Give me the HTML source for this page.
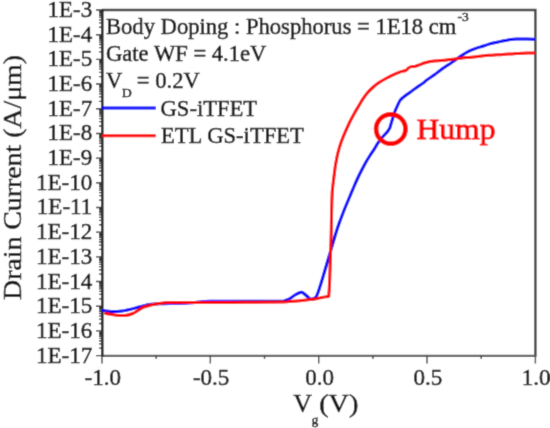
<!DOCTYPE html>
<html><head><meta charset="utf-8"><style>
html,body{margin:0;padding:0;background:#fff;width:550px;height:428px;overflow:hidden}
svg{display:block;color:#111}
#w{width:550px;height:428px}
text{font-family:"Liberation Serif",serif;fill:currentColor;stroke:currentColor;stroke-width:0.5px}
</style></head><body><div id="w">
<svg width="550" height="428" viewBox="0 0 550 428">
<defs><filter id="bl" x="0" y="0" width="550" height="428" filterUnits="userSpaceOnUse"><feConvolveMatrix order="3" kernelMatrix="0.01917 0.10012 0.01917 0.10012 0.52283 0.10012 0.01917 0.10012 0.01917" divisor="1" edgeMode="duplicate" preserveAlpha="true"/></filter></defs>
<rect width="550" height="428" fill="#fff"/>
<g filter="url(#bl)">
<rect width="550" height="428" fill="#fff"/>
<path d="M102.0 10.0H535.4V355.6" fill="none" stroke="#404040" stroke-width="2.4"/>
<path d="M102.0 355.9H536.6" fill="none" stroke="#606060" stroke-width="2.4"/>
<path d="M102.3 9.0V356.6" stroke="#1e1e1e" stroke-width="2.5"/>
<path d="M96.0 10.00H102.0 M96.0 34.69H102.0 M96.0 59.37H102.0 M96.0 84.06H102.0 M96.0 108.74H102.0 M96.0 133.43H102.0 M96.0 158.11H102.0 M96.0 182.80H102.0 M96.0 207.49H102.0 M96.0 232.17H102.0 M96.0 256.86H102.0 M96.0 281.54H102.0 M96.0 306.23H102.0 M96.0 330.91H102.0 M96.0 355.60H102.0" stroke="#333" stroke-width="1.4" fill="none"/>
<path d="M99.0 27.25H102.0 M99.0 22.91H102.0 M99.0 19.82H102.0 M99.0 17.43H102.0 M99.0 15.48H102.0 M99.0 13.82H102.0 M99.0 12.39H102.0 M99.0 11.13H102.0 M99.0 51.94H102.0 M99.0 47.59H102.0 M99.0 44.51H102.0 M99.0 42.12H102.0 M99.0 40.16H102.0 M99.0 38.51H102.0 M99.0 37.08H102.0 M99.0 35.82H102.0 M99.0 76.63H102.0 M99.0 72.28H102.0 M99.0 69.19H102.0 M99.0 66.80H102.0 M99.0 64.85H102.0 M99.0 63.20H102.0 M99.0 61.76H102.0 M99.0 60.50H102.0 M99.0 101.31H102.0 M99.0 96.96H102.0 M99.0 93.88H102.0 M99.0 91.49H102.0 M99.0 89.53H102.0 M99.0 87.88H102.0 M99.0 86.45H102.0 M99.0 85.19H102.0 M99.0 126.00H102.0 M99.0 121.65H102.0 M99.0 118.57H102.0 M99.0 116.17H102.0 M99.0 114.22H102.0 M99.0 112.57H102.0 M99.0 111.14H102.0 M99.0 109.87H102.0 M99.0 150.68H102.0 M99.0 146.34H102.0 M99.0 143.25H102.0 M99.0 140.86H102.0 M99.0 138.91H102.0 M99.0 137.25H102.0 M99.0 135.82H102.0 M99.0 134.56H102.0 M99.0 175.37H102.0 M99.0 171.02H102.0 M99.0 167.94H102.0 M99.0 165.55H102.0 M99.0 163.59H102.0 M99.0 161.94H102.0 M99.0 160.51H102.0 M99.0 159.24H102.0 M99.0 200.05H102.0 M99.0 195.71H102.0 M99.0 192.62H102.0 M99.0 190.23H102.0 M99.0 188.28H102.0 M99.0 186.62H102.0 M99.0 185.19H102.0 M99.0 183.93H102.0 M99.0 224.74H102.0 M99.0 220.39H102.0 M99.0 217.31H102.0 M99.0 214.92H102.0 M99.0 212.96H102.0 M99.0 211.31H102.0 M99.0 209.88H102.0 M99.0 208.62H102.0 M99.0 249.43H102.0 M99.0 245.08H102.0 M99.0 241.99H102.0 M99.0 239.60H102.0 M99.0 237.65H102.0 M99.0 236.00H102.0 M99.0 234.56H102.0 M99.0 233.30H102.0 M99.0 274.11H102.0 M99.0 269.76H102.0 M99.0 266.68H102.0 M99.0 264.29H102.0 M99.0 262.33H102.0 M99.0 260.68H102.0 M99.0 259.25H102.0 M99.0 257.99H102.0 M99.0 298.80H102.0 M99.0 294.45H102.0 M99.0 291.37H102.0 M99.0 288.97H102.0 M99.0 287.02H102.0 M99.0 285.37H102.0 M99.0 283.94H102.0 M99.0 282.67H102.0 M99.0 323.48H102.0 M99.0 319.14H102.0 M99.0 316.05H102.0 M99.0 313.66H102.0 M99.0 311.71H102.0 M99.0 310.05H102.0 M99.0 308.62H102.0 M99.0 307.36H102.0 M99.0 348.17H102.0 M99.0 343.82H102.0 M99.0 340.74H102.0 M99.0 338.35H102.0 M99.0 336.39H102.0 M99.0 334.74H102.0 M99.0 333.31H102.0 M99.0 332.04H102.0" stroke="#333" stroke-width="1.3" fill="none"/>
<path d="M102.00 355.6V363.6 M156.18 355.6V359.1 M210.35 355.6V363.6 M264.52 355.6V359.1 M318.70 355.6V363.6 M372.88 355.6V359.1 M427.05 355.6V363.6 M481.22 355.6V359.1 M535.40 355.6V363.6" stroke="#404040" stroke-width="1.4" fill="none"/>
<g font-size="23" fill="#111"><text x="92.2" y="17.00" text-anchor="end">1E-3</text><text x="92.2" y="41.69" text-anchor="end">1E-4</text><text x="92.2" y="66.37" text-anchor="end">1E-5</text><text x="92.2" y="91.06" text-anchor="end">1E-6</text><text x="92.2" y="115.74" text-anchor="end">1E-7</text><text x="92.2" y="140.43" text-anchor="end">1E-8</text><text x="92.2" y="165.11" text-anchor="end">1E-9</text><text x="92.2" y="189.80" text-anchor="end">1E-10</text><text x="92.2" y="214.49" text-anchor="end">1E-11</text><text x="92.2" y="239.17" text-anchor="end">1E-12</text><text x="92.2" y="263.86" text-anchor="end">1E-13</text><text x="92.2" y="288.54" text-anchor="end">1E-14</text><text x="92.2" y="313.23" text-anchor="end">1E-15</text><text x="92.2" y="337.91" text-anchor="end">1E-16</text><text x="92.2" y="362.60" text-anchor="end">1E-17</text></g>
<g font-size="23" fill="#111"><text x="102.80" y="384.6" text-anchor="middle">-1.0</text><text x="211.15" y="384.6" text-anchor="middle">-0.5</text><text x="319.50" y="384.6" text-anchor="middle">0.0</text><text x="427.85" y="384.6" text-anchor="middle">0.5</text><text x="536.20" y="384.6" text-anchor="middle">1.0</text></g>
<path d="M102.00 310.30C102.67 310.42 104.50 310.82 106.00 311.00C107.50 311.18 109.17 311.32 111.00 311.40C112.83 311.48 115.17 311.55 117.00 311.50C118.83 311.45 120.33 311.35 122.00 311.10C123.67 310.85 125.17 310.42 127.00 310.00C128.83 309.58 131.17 309.07 133.00 308.60C134.83 308.13 136.17 307.68 138.00 307.20C139.83 306.72 142.17 306.13 144.00 305.70C145.83 305.27 147.17 304.88 149.00 304.60C150.83 304.32 152.83 304.13 155.00 304.00C157.17 303.87 159.50 303.87 162.00 303.80C164.50 303.73 167.50 303.63 170.00 303.60C172.50 303.57 174.50 303.67 177.00 303.60C179.50 303.53 182.00 303.37 185.00 303.20C188.00 303.03 192.00 302.87 195.00 302.60C198.00 302.33 200.50 301.82 203.00 301.60C205.50 301.38 203.83 301.35 210.00 301.30C216.17 301.25 228.33 301.30 240.00 301.30C251.67 301.30 272.50 301.43 280.00 301.30C287.50 301.17 284.17 300.63 285.00 300.50C285.83 300.17 288.33 299.42 290.00 298.50C291.67 297.58 293.33 296.00 295.00 295.00C296.67 294.00 298.83 292.97 300.00 292.50C301.17 292.03 301.67 292.25 302.00 292.20C302.50 292.58 303.67 293.37 305.00 294.50C306.33 295.63 309.17 298.25 310.00 299.00C310.50 299.00 312.50 299.00 313.00 299.00C313.50 298.67 315.17 298.08 316.00 297.00C316.83 295.92 317.33 294.25 318.00 292.50C318.67 290.75 319.25 288.83 320.00 286.50C320.75 284.17 321.67 281.25 322.50 278.50C323.33 275.75 324.17 272.83 325.00 270.00C325.83 267.17 326.67 264.33 327.50 261.50C328.33 258.67 329.17 255.83 330.00 253.00C330.83 250.17 331.67 247.33 332.50 244.50C333.33 241.67 334.17 238.75 335.00 236.00C335.83 233.25 336.67 230.50 337.50 228.00C338.33 225.50 339.08 223.50 340.00 221.00C340.92 218.50 342.00 215.58 343.00 213.00C344.00 210.42 344.83 208.33 346.00 205.50C347.17 202.67 348.67 199.17 350.00 196.00C351.33 192.83 352.67 189.58 354.00 186.50C355.33 183.42 356.67 180.33 358.00 177.50C359.33 174.67 360.67 172.08 362.00 169.50C363.33 166.92 364.67 164.33 366.00 162.00C367.33 159.67 368.60 157.68 370.00 155.50C371.40 153.32 373.07 151.02 374.40 148.90C375.73 146.78 376.62 144.80 378.00 142.80C379.38 140.80 381.13 138.75 382.70 136.90C384.27 135.05 386.23 133.15 387.40 131.70C388.57 130.25 389.32 128.78 389.70 128.20C390.07 127.00 391.07 123.70 391.90 121.00C392.73 118.30 393.77 114.58 394.70 112.00C395.63 109.42 396.62 107.42 397.50 105.50C398.38 103.58 399.12 101.82 400.00 100.50C400.88 99.18 401.72 98.55 402.80 97.60C403.88 96.65 405.27 95.70 406.50 94.80C407.73 93.90 408.95 93.10 410.20 92.20C411.45 91.30 412.70 90.35 414.00 89.40C415.30 88.45 416.55 87.50 418.00 86.50C419.45 85.50 421.20 84.50 422.70 83.40C424.20 82.30 425.12 81.30 427.00 79.90C428.88 78.50 431.67 76.68 434.00 75.00C436.33 73.32 438.67 71.45 441.00 69.80C443.33 68.15 445.67 66.70 448.00 65.10C450.33 63.50 452.67 61.83 455.00 60.20C457.33 58.57 459.67 56.82 462.00 55.30C464.33 53.78 466.67 52.27 469.00 51.10C471.33 49.93 473.58 49.15 476.00 48.30C478.42 47.45 481.35 46.70 483.50 46.00C485.65 45.30 487.08 44.65 488.90 44.10C490.72 43.55 492.58 43.12 494.40 42.70C496.22 42.28 497.98 41.97 499.80 41.60C501.62 41.23 503.48 40.85 505.30 40.50C507.12 40.15 508.88 39.73 510.70 39.50C512.52 39.27 513.47 39.17 516.20 39.10C518.93 39.03 523.97 39.05 527.10 39.10C530.23 39.15 533.68 39.35 535.00 39.40" stroke="#0000ff" stroke-width="3.0" fill="none" stroke-linejoin="round"/>
<path d="M104.50 312.60C105.02 312.80 105.62 313.37 107.60 313.80C109.58 314.23 113.50 314.92 116.40 315.20C119.30 315.48 122.28 315.78 125.00 315.50C127.72 315.22 130.50 314.37 132.70 313.50C134.90 312.63 136.38 311.35 138.20 310.30C140.02 309.25 141.63 308.03 143.60 307.20C145.57 306.37 147.72 305.87 150.00 305.30C152.28 304.73 154.88 304.22 157.30 303.80C159.72 303.38 162.08 303.03 164.50 302.80C166.92 302.57 160.88 302.47 171.80 302.40C182.72 302.33 211.97 302.45 230.00 302.40C248.03 302.35 270.00 302.27 280.00 302.10C290.00 301.93 286.67 301.63 290.00 301.40C293.33 301.17 296.67 301.00 300.00 300.70C303.33 300.40 307.50 299.90 310.00 299.60C312.50 299.30 313.33 299.18 315.00 298.90C316.67 298.62 318.33 298.23 320.00 297.90C321.67 297.57 323.55 297.17 325.00 296.90C326.45 296.63 328.08 296.40 328.70 296.30C328.78 295.25 329.12 291.05 329.20 290.00C329.28 288.33 329.57 283.33 329.70 280.00C329.83 276.67 329.87 274.25 330.00 270.00C330.13 265.75 330.33 259.50 330.50 254.50C330.67 249.50 330.87 244.28 331.00 240.00C331.13 235.72 331.22 232.77 331.30 228.80C331.38 224.83 331.42 220.40 331.50 216.20C331.58 212.00 331.67 207.80 331.80 203.60C331.93 199.40 332.03 194.73 332.30 191.00C332.57 187.27 332.98 184.70 333.40 181.20C333.82 177.70 334.43 172.80 334.80 170.00C335.17 167.20 335.10 167.18 335.60 164.40C336.10 161.62 336.88 157.00 337.80 153.30C338.72 149.60 339.80 145.90 341.10 142.20C342.40 138.50 344.12 134.55 345.60 131.10C347.08 127.65 348.53 124.48 350.00 121.50C351.47 118.52 352.95 115.80 354.40 113.20C355.85 110.60 357.25 108.33 358.70 105.90C360.15 103.47 361.63 100.78 363.10 98.60C364.57 96.42 365.80 94.73 367.50 92.80C369.20 90.87 371.37 88.70 373.30 87.00C375.23 85.30 376.92 84.05 379.10 82.60C381.28 81.15 383.98 79.63 386.40 78.30C388.82 76.97 391.18 75.70 393.60 74.60C396.02 73.50 398.83 72.42 400.90 71.70C402.97 70.98 404.78 70.90 406.00 70.30C407.22 69.70 407.35 68.72 408.20 68.10C409.05 67.48 410.13 66.85 411.10 66.60C412.07 66.35 412.78 66.83 414.00 66.60C415.22 66.37 416.70 65.80 418.40 65.20C420.10 64.60 422.27 63.62 424.20 63.00C426.13 62.38 428.37 61.82 430.00 61.50C431.63 61.18 432.17 61.27 434.00 61.10C435.83 60.93 438.67 60.72 441.00 60.50C443.33 60.28 445.67 60.03 448.00 59.80C450.33 59.57 452.67 59.38 455.00 59.10C457.33 58.82 459.67 58.38 462.00 58.10C464.33 57.82 466.67 57.63 469.00 57.40C471.33 57.17 473.58 56.97 476.00 56.70C478.42 56.43 481.35 56.03 483.50 55.80C485.65 55.57 487.08 55.45 488.90 55.30C490.72 55.15 492.58 55.00 494.40 54.90C496.22 54.80 497.98 54.82 499.80 54.70C501.62 54.58 503.48 54.32 505.30 54.20C507.12 54.08 508.88 54.10 510.70 54.00C512.52 53.90 514.38 53.72 516.20 53.60C518.02 53.48 519.78 53.38 521.60 53.30C523.42 53.22 524.87 53.17 527.10 53.10C529.33 53.03 533.68 52.93 535.00 52.90" stroke="#ff0000" stroke-width="3.0" fill="none" stroke-linejoin="round"/>
<path d="M102.0 108.0H155.8" stroke="#0000ff" stroke-width="3.0"/>
<path d="M102.0 135.8H155.8" stroke="#ff0000" stroke-width="3.0"/>
<g font-size="22.6"><text x="160.5" y="115.8">GS-iTFET</text><text x="161" y="143">ETL GS-iTFET</text><text x="106" y="33.6">Body Doping : Phosphorus = 1E18 cm</text><text x="457.5" y="21.4" font-size="13.5">-3</text><text x="106" y="60.6">Gate WF = 4.1eV</text><text x="106" y="87.6">V</text><text x="122" y="97.4" font-size="13.5">D</text><text x="136.8" y="87.6">= 0.2V</text></g>
<circle cx="390.8" cy="129" r="14.7" stroke="#ff0000" stroke-width="4.7" fill="none"/>
<text x="416.5" y="139.2" font-size="30" style="color:#ff0000;stroke-width:0.9px" textLength="79" lengthAdjust="spacingAndGlyphs">Hump</text>
<text x="293.2" y="411.8" font-size="26">V</text><text x="311.8" y="423.5" font-size="13">g</text><text x="319.2" y="411.8" font-size="26" textLength="39.2" lengthAdjust="spacingAndGlyphs">(V)</text>
<text transform="translate(21,299.9) rotate(-90)" font-size="24.5" style="stroke-width:0.45px" textLength="244.9" lengthAdjust="spacingAndGlyphs">Drain Current (A/μm)</text>
</g>
</svg></div>
</body></html>
